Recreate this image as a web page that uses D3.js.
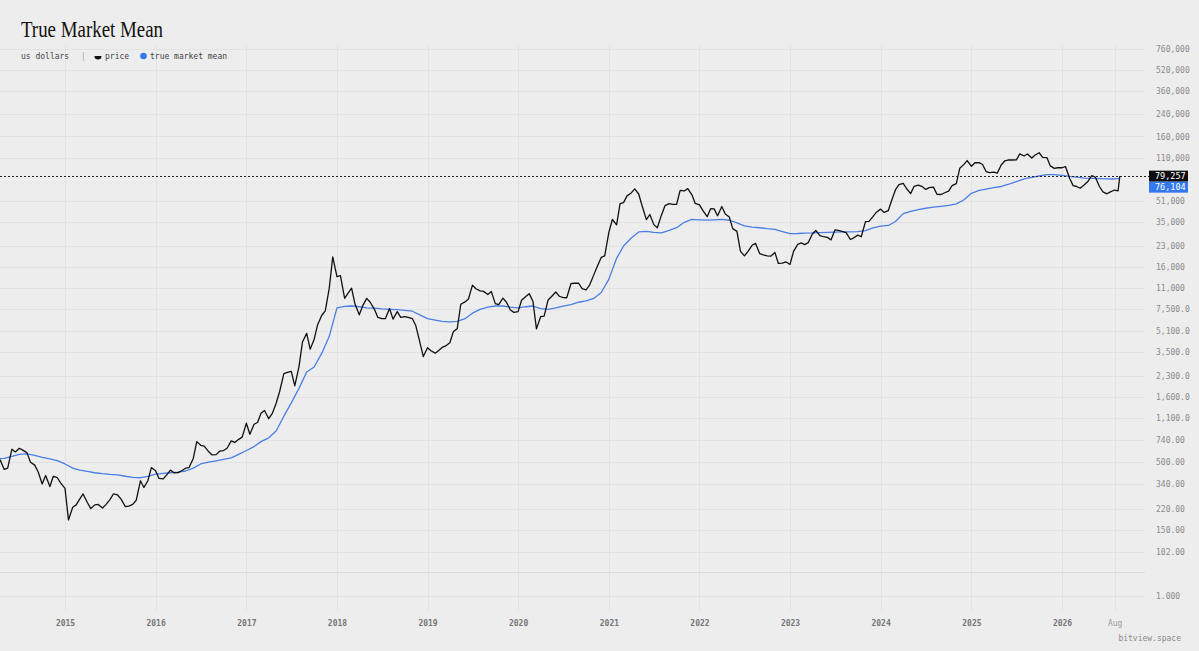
<!DOCTYPE html>
<html>
<head>
    <title>True Market Mean</title>
    <script src="https://d3js.org/d3.v7.min.js"></script>
    <style>
        body { margin: 0; background: #ededed; }
        svg { display: block; }
    </style>
</head>
<body>
    <svg width="1199" height="651"></svg>

    <script>
        // Price in US dollars, read on the 1st and 15th of each month
        // (2014 starts in April, 2026 stops in mid August)
        var price2014 = [480, 520, 440, 450, 630, 600, 640, 620, 590, 500, 475, 420, 340, 395, 325, 390, 380, 345];
        var price2015 = [315, 180, 225, 235, 260, 285, 245, 220, 235, 237, 222, 236, 258, 285, 280, 260, 228, 230, 237, 255, 360, 320, 360, 455];
        var price2016 = [430, 375, 372, 400, 435, 415, 416, 430, 450, 455, 535, 720, 675, 665, 605, 570, 572, 608, 615, 640, 730, 710, 750, 780];
        var price2017 = [1000, 820, 980, 1010, 1190, 1250, 1080, 1180, 1420, 1750, 2400, 2450, 2500, 1930, 2720, 4200, 4900, 3700, 4400, 5700, 6750, 7300, 10900, 19000];
        var price2018 = [13400, 13600, 9100, 10000, 10900, 8200, 6800, 8000, 9100, 8500, 7500, 6500, 6350, 6350, 7600, 6300, 7200, 6500, 6600, 6500, 6350, 5600, 4200, 3250];
        var price2019 = [3800, 3600, 3450, 3620, 3820, 3920, 4150, 5050, 5350, 8200, 8550, 9000, 11500, 10800, 10400, 10300, 9750, 10300, 8300, 8150, 9150, 8500, 7400, 7100];
        var price2020 = [7200, 8800, 9400, 9900, 8600, 5300, 6600, 6650, 8850, 9400, 10200, 9450, 9230, 9200, 11800, 11900, 11900, 10800, 10600, 11500, 13800, 16000, 18800, 19300];
        var price2021 = [29400, 36800, 33500, 48700, 49600, 55900, 58900, 63200, 57800, 46700, 36700, 40200, 33600, 31800, 39900, 47000, 48800, 48100, 48200, 61600, 61000, 63600, 57200, 48900];
        var price2022 = [47700, 43100, 38700, 44500, 44400, 39300, 46300, 40500, 38500, 31300, 29800, 21000, 19300, 20800, 23300, 24100, 20100, 19700, 19300, 19200, 20500, 16900, 17000, 17400];
        var price2023 = [16600, 20900, 23700, 24300, 23600, 24400, 28500, 30300, 27600, 27200, 26800, 25600, 30600, 30300, 29700, 29200, 25800, 26600, 27900, 27100, 35400, 35600, 38700, 41900];
        var price2024 = [44200, 41700, 43100, 51900, 62400, 68300, 69700, 63400, 58200, 66200, 67700, 66200, 62700, 64600, 65300, 57500, 57300, 59100, 60800, 67000, 69500, 91100, 97200, 104500];
        var price2025 = [94400, 100500, 100600, 97500, 86000, 84300, 85200, 83600, 96500, 103700, 105700, 105500, 105700, 117700, 113300, 117400, 109200, 115300, 120000, 110700, 110100, 95000, 91000, 92000];
        var price2026 = [92000, 94000, 76000, 67000, 66000, 64000, 68000, 72000, 80000, 78000, 66000, 60000, 58000, 60000, 62000, 61000];
        var lastDate = "2026-08-22";
        var lastPrice = 79257;

        // True market mean, read on the 1st of each month
        var tmm2014 = [530, 535, 555, 575, 580, 565, 545, 530, 515];
        var tmm2015 = [485, 450, 435, 425, 415, 408, 403, 400, 390, 382, 380, 390];
        var tmm2016 = [405, 410, 415, 420, 428, 450, 485, 500, 512, 525, 540, 575];
        var tmm2017 = [615, 660, 720, 770, 870, 1130, 1430, 1850, 2470, 2700, 3450, 4650];
        var tmm2018 = [7700, 7900, 7950, 7850, 7700, 7650, 7550, 7500, 7450, 7350, 7250, 6800];
        var tmm2019 = [6350, 6200, 6050, 6000, 6050, 6350, 7000, 7500, 7800, 7950, 7950, 7800];
        var tmm2020 = [7700, 7850, 7950, 7600, 7500, 7700, 7950, 8150, 8500, 8700, 9100, 10100];
        var tmm2021 = [12800, 18500, 23000, 26500, 29500, 29800, 29300, 29000, 30300, 31800, 35000, 36900];
        var tmm2022 = [36600, 36400, 36600, 36900, 36300, 34700, 32900, 32100, 31800, 31300, 30900, 29700];
        var tmm2023 = [28600, 28700, 28900, 29000, 29200, 29300, 29400, 29500, 29600, 29700, 30200, 31700];
        var tmm2024 = [32700, 33100, 35500, 40800, 42500, 43800, 44900, 45800, 46500, 47200, 48500, 52000];
        var tmm2025 = [58500, 61500, 63000, 64700, 66000, 68700, 72000, 75500, 77600, 79500, 81500, 81500];
        var tmm2026 = [80500, 79000, 78000, 76600, 76300, 75900, 75600, 75400];
        var lastMean = 76104;

        // Axis ticks
        var yearTicks = [2015, 2016, 2017, 2018, 2019, 2020, 2021, 2022, 2023, 2024, 2025, 2026];
        var monthTick = "2026-08-01";
        var monthLabel = "Aug";
        var yTickValues = [760000, 520000, 360000, 240000, 160000, 110000, 51000, 35000, 23000, 16000, 11000,
                           7500, 5100, 3500, 2300, 1600, 1100, 740, 500, 340, 220, 150, 102, 1];

        // Build dated series
        var priceParts = [[2014, 3, price2014], [2015, 0, price2015], [2016, 0, price2016], [2017, 0, price2017],
                          [2018, 0, price2018], [2019, 0, price2019], [2020, 0, price2020], [2021, 0, price2021],
                          [2022, 0, price2022], [2023, 0, price2023], [2024, 0, price2024], [2025, 0, price2025],
                          [2026, 0, price2026]];
        var tmmParts = [[2014, 3, tmm2014], [2015, 0, tmm2015], [2016, 0, tmm2016], [2017, 0, tmm2017],
                        [2018, 0, tmm2018], [2019, 0, tmm2019], [2020, 0, tmm2020], [2021, 0, tmm2021],
                        [2022, 0, tmm2022], [2023, 0, tmm2023], [2024, 0, tmm2024], [2025, 0, tmm2025],
                        [2026, 0, tmm2026]];

        var priceData = [];
        priceParts.forEach(function(p) {
            p[2].forEach(function(v, i) {
                priceData.push({date: new Date(Date.UTC(p[0], p[1] + Math.floor(i / 2), i % 2 ? 15 : 1)), value: v});
            });
        });
        priceData.push({date: new Date(lastDate), value: lastPrice});

        var tmmData = [];
        tmmParts.forEach(function(p) {
            p[2].forEach(function(v, i) {
                tmmData.push({date: new Date(Date.UTC(p[0], p[1] + i, 1)), value: v});
            });
        });
        tmmData.push({date: new Date(lastDate), value: lastMean});

        var mono = "'DejaVu Sans Mono', monospace";
        var plotRight = 1124, plotTop = 40, plotBottom = 610;

        var svg = d3.select("svg");

        // Scales: time on x, piecewise log on y (the 1.000 tick sits in a squeezed lower band)
        var x = d3.scaleUtc()
            .domain([new Date(Date.UTC(2015, 0, 1)), new Date(Date.UTC(2026, 0, 1))])
            .range([65, 1062]);
        var y = d3.scaleLog()
            .domain([1, 102, 760000])
            .range([596, 552, 48.5]);

        var xTickDates = yearTicks.map(function(yr) { return new Date(Date.UTC(yr, 0, 1)); })
            .concat([new Date(monthTick)]);

        // Grid
        var grid = svg.append("g").attr("stroke", "#e2e2e2").attr("stroke-width", 1);
        grid.selectAll(".hgrid")
            .data(yTickValues)
          .enter().append("line")
            .attr("x1", 0).attr("x2", 1145)
            .attr("y1", function(d) { return Math.round(y(d)) + 0.5; })
            .attr("y2", function(d) { return Math.round(y(d)) + 0.5; });
        grid.selectAll(".vgrid")
            .data(xTickDates)
          .enter().append("line")
            .attr("y1", 45).attr("y2", plotBottom)
            .attr("x1", function(d) { return Math.round(x(d)) + 0.5; })
            .attr("x2", function(d) { return Math.round(x(d)) + 0.5; });
        // lower band separator
        svg.append("line")
            .attr("x1", 0).attr("x2", 1145)
            .attr("y1", 572.5).attr("y2", 572.5)
            .attr("stroke", "#dcdcdc");

        // Clip for the series
        svg.append("clipPath").attr("id", "plot")
          .append("rect")
            .attr("x", 0).attr("y", plotTop)
            .attr("width", plotRight).attr("height", plotBottom - plotTop);

        var line = d3.line()
            .x(function(d) { return x(d.date); })
            .y(function(d) { return y(d.value); });

        var series = svg.append("g").attr("clip-path", "url(#plot)");

        series.append("path")
            .datum(tmmData)
            .attr("fill", "none")
            .attr("stroke", "#4a7ee6")
            .attr("stroke-width", 1.3)
            .attr("stroke-linejoin", "round")
            .attr("d", line);

        series.append("path")
            .datum(priceData)
            .attr("fill", "none")
            .attr("stroke", "#111")
            .attr("stroke-width", 1.3)
            .attr("stroke-linejoin", "round")
            .attr("d", line);

        // Dotted line at the last price
        var yP = y(lastPrice), yM = y(lastMean);
        svg.append("line")
            .attr("x1", 0).attr("x2", 1149)
            .attr("y1", Math.round(yP) + 0.5).attr("y2", Math.round(yP) + 0.5)
            .attr("stroke", "#222")
            .attr("stroke-dasharray", "2,2");

        // Y axis labels on the right
        var yFormat = function(v) {
            if (v >= 10000) return d3.format(",.0f")(v);
            if (v >= 1000) return d3.format(",.1f")(v);
            if (v >= 100) return d3.format(".2f")(v);
            return d3.format(".3f")(v);
        };
        var yAxis = svg.append("g")
            .attr("transform", "translate(1156,0)")
            .call(d3.axisRight(y).tickValues(yTickValues).tickFormat(yFormat).tickSize(0).tickPadding(0));
        yAxis.select(".domain").remove();
        yAxis.selectAll("text")
            .attr("fill", "#8a8a8a")
            .style("font-family", mono)
            .style("font-size", "8px");

        // Last value boxes
        var boxH = 11;
        var boxes = [
            {value: lastPrice, cy: yP, fill: "#0d0d0d"},
            {value: lastMean, cy: Math.max(yM, yP + boxH), fill: "#3478f0"}
        ];
        var tag = svg.selectAll(".tag")
            .data(boxes)
          .enter().append("g");
        tag.append("rect")
            .attr("x", 1149).attr("width", 39)
            .attr("y", function(d) { return d.cy - boxH / 2; })
            .attr("height", boxH)
            .attr("fill", function(d) { return d.fill; });
        tag.append("text")
            .attr("x", 1155)
            .attr("y", function(d) { return d.cy; })
            .attr("dy", "0.35em")
            .attr("fill", "#fff")
            .style("font-family", mono)
            .style("font-size", "8.5px")
            .text(function(d) { return d3.format(",.0f")(d.value); });

        // X axis
        var xAxis = svg.append("g")
            .attr("transform", "translate(0,620)")
            .call(d3.axisBottom(x).tickValues(xTickDates).tickSize(0).tickPadding(0)
                .tickFormat(function(d) { return d.getUTCMonth() === 0 ? d.getUTCFullYear() : monthLabel; }));
        xAxis.select(".domain").remove();
        xAxis.selectAll("text")
            .attr("fill", function(d) { return d.getUTCMonth() === 0 ? "#767676" : "#9a9a9a"; })
            .style("font-family", mono)
            .style("font-size", "8px")
            .style("font-weight", function(d) { return d.getUTCMonth() === 0 ? "bold" : "normal"; });

        // Title and legend
        svg.append("text")
            .attr("x", 21).attr("y", 37)
            .attr("textLength", 142)
            .attr("lengthAdjust", "spacingAndGlyphs")
            .attr("fill", "#111")
            .style("font-family", "'Liberation Serif', serif")
            .style("font-size", "23px")
            .text("True Market Mean");

        var legend = svg.append("g")
            .style("font-family", mono)
            .style("font-size", "8px");
        legend.append("text").attr("x", 21).attr("y", 59).attr("fill", "#444").text("us dollars");
        legend.append("text").attr("x", 81).attr("y", 59).attr("fill", "#aaa").text("|");
        legend.append("path")
            .attr("transform", "translate(98,56)")
            .attr("d", "M-3.5,0 A3.5,3.5 0 0 0 3.5,0 Z")
            .attr("fill", "#111");
        legend.append("text").attr("x", 105).attr("y", 59).attr("fill", "#444").text("price");
        legend.append("circle").attr("cx", 143.5).attr("cy", 56).attr("r", 3.3).attr("fill", "#3478f0");
        legend.append("text").attr("x", 150).attr("y", 59).attr("fill", "#444").text("true market mean");

        // Source
        svg.append("text")
            .attr("x", 1181).attr("y", 641)
            .attr("text-anchor", "end")
            .attr("fill", "#8a8a8a")
            .style("font-family", mono)
            .style("font-size", "8px")
            .text("bitview.space");
    </script>
</body>
</html>
